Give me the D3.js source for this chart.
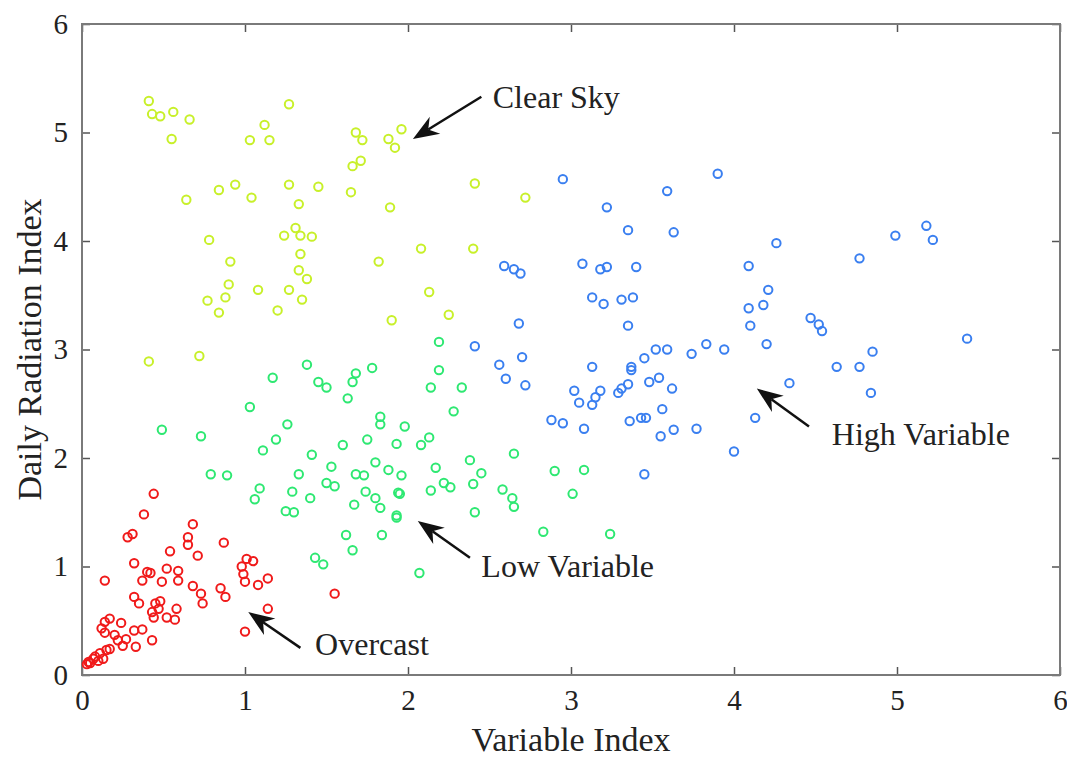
<!DOCTYPE html>
<html lang="en">
<head>
  <meta charset="UTF-8" />
  <title>Daily Radiation Index vs Variable Index</title>
  <script src="https://d3js.org/d3.v7.min.js"></script>
  <style>
    body { margin: 0; background: #fff; }
    svg text { font-family: "Liberation Serif", "Times New Roman", serif; fill: #222; }
    .dot { fill: none; stroke-width: 2; }
  </style>
</head>
<body>
  <svg width="1067" height="760"></svg>
  <script>
    // [variable index, daily radiation index]
    const clearSky = [
      [0.41, 5.29], [0.43, 5.17], [0.48, 5.15], [0.56, 5.19], [0.66, 5.12], [0.55, 4.94],
      [1.27, 5.26], [1.12, 5.07], [1.03, 4.93], [1.15, 4.93], [1.68, 5.00], [1.72, 4.93],
      [1.88, 4.94], [1.96, 5.03], [1.92, 4.86], [1.71, 4.74], [1.66, 4.69], [0.64, 4.38],
      [0.84, 4.47], [0.94, 4.52], [1.04, 4.40], [1.27, 4.52], [1.45, 4.50], [1.65, 4.45],
      [1.33, 4.34], [1.89, 4.31], [2.41, 4.53], [2.72, 4.40], [0.78, 4.01], [1.24, 4.05],
      [1.31, 4.12], [1.34, 4.05], [1.41, 4.04], [1.34, 3.88], [0.91, 3.81], [1.33, 3.73],
      [1.38, 3.65], [1.82, 3.81], [2.08, 3.93], [2.40, 3.93], [0.90, 3.60], [0.77, 3.45],
      [0.88, 3.48], [0.84, 3.34], [1.08, 3.55], [1.27, 3.55], [1.20, 3.36], [1.35, 3.46],
      [2.13, 3.53], [2.25, 3.32], [1.90, 3.27], [0.41, 2.89], [0.72, 2.94]
    ];
    const highVariable = [
      [2.95, 4.57], [3.90, 4.62], [3.59, 4.46], [3.22, 4.31], [3.35, 4.10], [3.63, 4.08],
      [3.07, 3.79], [2.59, 3.77], [2.65, 3.74], [2.69, 3.70], [3.18, 3.74], [3.22, 3.76],
      [3.40, 3.76], [3.13, 3.48], [3.20, 3.42], [3.31, 3.46], [3.38, 3.48], [3.35, 3.22],
      [2.68, 3.24], [2.41, 3.03], [2.70, 2.93], [2.56, 2.86], [2.60, 2.73], [2.72, 2.67],
      [3.13, 2.84], [3.02, 2.62], [3.05, 2.51], [3.13, 2.49], [3.15, 2.56], [3.18, 2.62],
      [3.29, 2.60], [3.31, 2.64], [3.35, 2.68], [3.37, 2.81], [3.37, 2.84], [3.45, 2.92],
      [3.52, 3.00], [3.59, 3.00], [3.74, 2.96], [3.83, 3.05], [3.94, 3.00], [3.48, 2.70],
      [3.54, 2.74], [3.62, 2.64], [2.88, 2.35], [2.95, 2.32], [3.08, 2.27], [3.36, 2.34],
      [3.43, 2.37], [3.46, 2.37], [3.56, 2.45], [3.55, 2.20], [3.63, 2.26], [3.77, 2.27],
      [3.45, 1.85], [4.00, 2.06], [4.13, 2.37], [4.34, 2.69], [4.09, 3.77], [4.26, 3.98],
      [4.09, 3.38], [4.18, 3.41], [4.21, 3.55], [4.10, 3.22], [4.20, 3.05], [4.47, 3.29],
      [4.52, 3.23], [4.54, 3.17], [4.63, 2.84], [4.77, 2.84], [4.85, 2.98], [4.84, 2.60],
      [4.77, 3.84], [4.99, 4.05], [5.18, 4.14], [5.22, 4.01], [5.43, 3.10]
    ];
    const lowVariable = [
      [2.19, 3.07], [1.38, 2.86], [1.78, 2.83], [1.68, 2.78], [1.66, 2.70], [2.19, 2.81],
      [1.17, 2.74], [1.45, 2.70], [1.50, 2.65], [2.14, 2.65], [2.33, 2.65], [1.63, 2.55],
      [1.03, 2.47], [2.28, 2.43], [1.83, 2.38], [1.83, 2.31], [1.26, 2.31], [1.98, 2.29],
      [0.49, 2.26], [0.73, 2.20], [1.19, 2.17], [1.75, 2.17], [2.13, 2.19], [2.08, 2.12],
      [1.93, 2.13], [1.60, 2.12], [1.11, 2.07], [1.41, 2.03], [2.65, 2.04], [2.38, 1.98],
      [1.80, 1.96], [1.53, 1.92], [1.88, 1.89], [2.17, 1.91], [0.79, 1.85], [0.89, 1.84],
      [1.33, 1.85], [1.68, 1.85], [1.73, 1.84], [1.96, 1.84], [2.45, 1.86], [2.90, 1.88],
      [3.08, 1.89], [1.50, 1.77], [1.55, 1.74], [1.09, 1.72], [2.22, 1.77], [2.26, 1.73],
      [2.40, 1.76], [2.58, 1.71], [1.74, 1.69], [1.94, 1.68], [1.95, 1.67], [1.29, 1.69],
      [2.14, 1.70], [1.06, 1.62], [1.40, 1.63], [1.80, 1.63], [2.64, 1.63], [3.01, 1.67],
      [1.67, 1.57], [1.83, 1.54], [2.65, 1.55], [1.25, 1.51], [1.30, 1.50], [1.93, 1.47],
      [1.93, 1.45], [2.41, 1.50], [1.62, 1.29], [1.84, 1.29], [2.83, 1.32], [3.24, 1.30],
      [1.66, 1.15], [1.43, 1.08], [1.48, 1.02], [2.07, 0.94]
    ];
    const overcast = [
      [0.44, 1.67], [0.38, 1.48], [0.68, 1.39], [0.28, 1.27], [0.31, 1.30], [0.65, 1.27],
      [0.65, 1.20], [0.54, 1.14], [0.87, 1.22], [0.71, 1.10], [1.01, 1.07], [1.05, 1.05],
      [0.32, 1.03], [0.40, 0.95], [0.42, 0.94], [0.52, 0.98], [0.59, 0.96], [0.98, 1.00],
      [0.14, 0.87], [0.37, 0.87], [0.49, 0.86], [0.59, 0.87], [0.99, 0.93], [1.14, 0.89],
      [1.00, 0.86], [1.08, 0.83], [0.68, 0.82], [0.85, 0.80], [0.88, 0.72], [0.73, 0.75],
      [0.74, 0.66], [0.32, 0.72], [0.35, 0.66], [0.45, 0.66], [0.48, 0.68], [0.47, 0.61],
      [0.58, 0.61], [0.43, 0.58], [0.52, 0.53], [0.57, 0.51], [0.44, 0.53], [1.14, 0.61],
      [1.55, 0.75], [0.17, 0.52], [0.14, 0.49], [0.12, 0.43], [0.14, 0.39], [0.24, 0.48],
      [0.32, 0.41], [0.37, 0.42], [0.20, 0.37], [0.27, 0.33], [0.22, 0.32], [0.33, 0.26],
      [0.25, 0.27], [0.43, 0.32], [1.00, 0.40], [0.17, 0.24], [0.15, 0.23], [0.11, 0.20],
      [0.08, 0.17], [0.07, 0.15], [0.04, 0.12], [0.03, 0.10], [0.10, 0.13], [0.13, 0.15],
      [0.05, 0.11]
    ];
    const groups = [
      { name: "Clear Sky", color: "#c8f02a", points: clearSky },
      { name: "High Variable", color: "#3a7ff0", points: highVariable },
      { name: "Low Variable", color: "#2ee872", points: lowVariable },
      { name: "Overcast", color: "#f01a1a", points: overcast }
    ];
    // label text anchor, arrow tail, arrow tip (data units)
    const notes = [
      { text: "Clear Sky", at: [2.52, 5.23], from: [2.45, 5.33], to: [2.03, 4.94] },
      { text: "High Variable", at: [4.60, 2.12], from: [4.46, 2.29], to: [4.14, 2.64] },
      { text: "Low Variable", at: [2.45, 0.90], from: [2.38, 1.08], to: [2.06, 1.42] },
      { text: "Overcast", at: [1.43, 0.18], from: [1.34, 0.25], to: [1.02, 0.58] }
    ];
    const ticks = [0, 1, 2, 3, 4, 5, 6];

    const svg = d3.select("svg");
    const margin = { top: 24, right: 7, bottom: 85, left: 82 };
    const width = +svg.attr("width") - margin.left - margin.right;
    const height = +svg.attr("height") - margin.top - margin.bottom;
    const chart = svg.append("g").attr("transform", `translate(${margin.left},${margin.top})`);

    const x = d3.scaleLinear().domain([0, 6]).range([0, width]);
    const y = d3.scaleLinear().domain([0, 6]).range([height, 0]);

    const styleAxis = g => {
      g.select(".domain").remove();
      g.selectAll(".tick line").attr("stroke", "#555").attr("stroke-width", 1.5);
      g.selectAll(".tick text").style("font-size", "29px");
    };

    // inward ticks on all four sides, like a boxed plot
    chart.append("g")
      .attr("transform", `translate(0,${height})`)
      .call(d3.axisBottom(x).tickValues(ticks).tickFormat(d3.format("d"))
        .tickSizeInner(-8).tickSizeOuter(0).tickPadding(14))
      .call(styleAxis);
    chart.append("g")
      .call(d3.axisLeft(y).tickValues(ticks).tickFormat(d3.format("d"))
        .tickSizeInner(-8).tickSizeOuter(0).tickPadding(14))
      .call(styleAxis);
    chart.append("g")
      .call(d3.axisTop(x).tickValues(ticks).tickSizeInner(-8).tickSizeOuter(0).tickFormat(""))
      .call(styleAxis);
    chart.append("g")
      .attr("transform", `translate(${width},0)`)
      .call(d3.axisRight(y).tickValues(ticks).tickSizeInner(-8).tickSizeOuter(0).tickFormat(""))
      .call(styleAxis);

    chart.append("rect")
      .attr("width", width)
      .attr("height", height)
      .attr("fill", "none")
      .attr("stroke", "#7a7a7a")
      .attr("stroke-width", 2);

    groups.forEach(grp => {
      chart.selectAll(null)
        .data(grp.points)
        .enter()
        .append("circle")
        .attr("class", "dot")
        .attr("r", 4.2)
        .attr("cx", d => x(d[0]))
        .attr("cy", d => y(d[1]))
        .attr("stroke", grp.color);
    });

    // arrows with filled heads
    notes.forEach(n => {
      const x1 = x(n.from[0]), y1 = y(n.from[1]);
      const x2 = x(n.to[0]), y2 = y(n.to[1]);
      const ang = Math.atan2(y2 - y1, x2 - x1);
      const len = 26, half = 10, back = 18;
      const ux = Math.cos(ang), uy = Math.sin(ang);
      const px = -uy, py = ux;
      const bx = x2 - ux * len, by = y2 - uy * len;
      const nx = x2 - ux * back, ny = y2 - uy * back;
      chart.append("line")
        .attr("x1", x1).attr("y1", y1)
        .attr("x2", nx).attr("y2", ny)
        .attr("stroke", "#111")
        .attr("stroke-width", 2.5);
      chart.append("path")
        .attr("d", `M${x2},${y2}L${bx + px * half},${by + py * half}L${nx},${ny}L${bx - px * half},${by - py * half}Z`)
        .attr("fill", "#111");
      chart.append("text")
        .attr("x", x(n.at[0]))
        .attr("y", y(n.at[1]))
        .style("font-size", "32px")
        .text(n.text);
    });

    svg.append("text")
      .attr("x", margin.left + width / 2)
      .attr("y", 751)
      .attr("text-anchor", "middle")
      .style("font-size", "34px")
      .text("Variable Index");
    svg.append("text")
      .attr("transform", `translate(41,${margin.top + height / 2}) rotate(-90)`)
      .attr("text-anchor", "middle")
      .style("font-size", "34px")
      .text("Daily Radiation Index");
  </script>
</body>
</html>
